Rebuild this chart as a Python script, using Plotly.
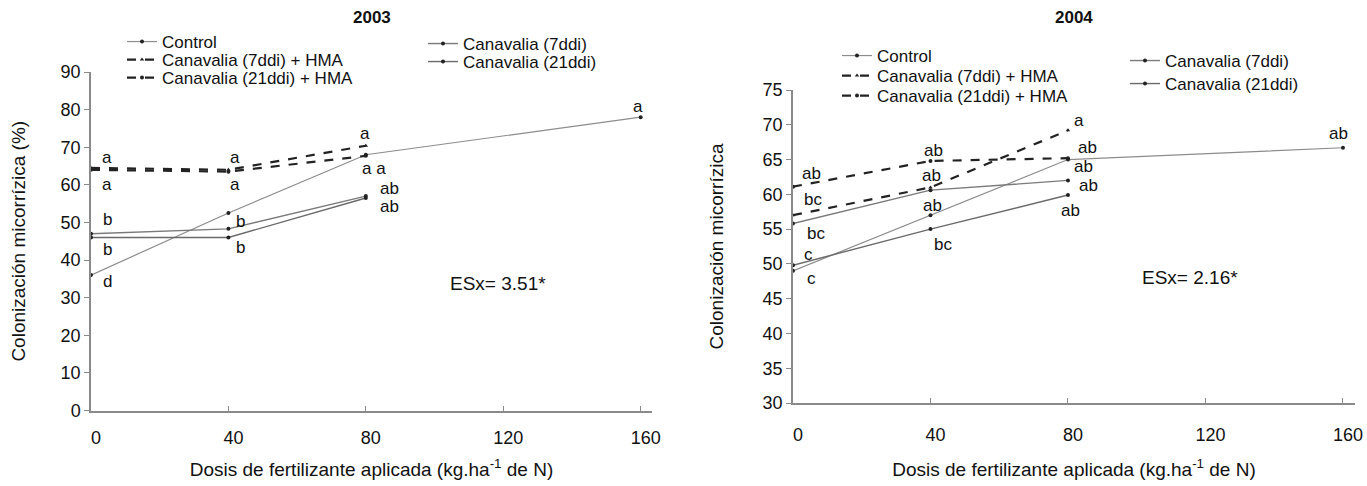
import plotly.graph_objects as go

# ---------------- data ----------------
doses_all = [0, 40, 80, 160]
doses = [0, 40, 80]
series_names = ["Control", "Canavalia (7ddi)", "Canavalia (7ddi) + HMA",
                "Canavalia (21ddi)", "Canavalia (21ddi) + HMA"]

control_2003 = [36, 52.5, 68, 78]
can7_2003 = [47, 48.3, 57]
can7hma_2003 = [64.5, 64, 70.4]
can21_2003 = [46, 46, 56.5]
can21hma_2003 = [64, 63.5, 67.7]

control_2004 = [49, 57, 65, 66.7]
can7_2004 = [55.8, 60.6, 62.0]
can7hma_2004 = [57, 61, 69.2]
can21_2004 = [49.8, 55, 59.9]
can21hma_2004 = [61.1, 64.8, 65.2]

# significance letters: (dose, value, text)
letters_2003 = [(4.7, 67.2, "a"), (4.7, 60.0, "a"), (4.7, 50.7, "b"), (4.9, 42.7, "b"), (4.9, 34.2, "d"),
                (41.9, 67.2, "a"), (41.9, 60.0, "a"), (43.6, 50.2, "b"), (43.6, 43.3, "b"),
                (79.7, 73.6, "a"), (82.5, 64.3, "a a"), (87, 58.9, "ab"), (87, 54.2, "ab"),
                (159.1, 80.8, "a")]
letters_2004 = [(5.4, 63.0, "ab"), (5.9, 59.2, "bc"), (6.7, 54.4, "bc"), (4.5, 51.3, "c"), (5.4, 47.9, "c"),
                (40.8, 66.3, "ab"), (40.3, 62.7, "ab"), (40.6, 58.4, "ab"), (43.5, 52.8, "bc"),
                (83.2, 70.6, "a"), (85.6, 66.8, "ab"), (84.5, 64.0, "ab"), (85.9, 61.3, "ab"), (80.8, 57.7, "ab"),
                (158.6, 68.8, "ab")]
esx_2003 = "ESx= 3.51*"
esx_2004 = "ESx= 2.16*"
x_title = "Dosis de fertilizante aplicada (kg.ha<sup>-1</sup> de N)"

FONT = "Liberation Sans, Arial, sans-serif"
W, H = 1367, 486
fig = go.Figure()

styles = {
    "Control": dict(color="#8c8c8c", width=1.2, dash="solid", symbol="circle"),
    "Canavalia (7ddi)": dict(color="#7a7a7a", width=1.4, dash="solid", symbol="circle"),
    "Canavalia (7ddi) + HMA": dict(color="#222222", width=2.2, dash="dash", symbol="triangle-up"),
    "Canavalia (21ddi)": dict(color="#6a6a6a", width=1.4, dash="solid", symbol="circle"),
    "Canavalia (21ddi) + HMA": dict(color="#222222", width=2.2, dash="dash", symbol="circle"),
}

# legend entry placement (left x of legend box, row centre y) in pixels
legend_pos_2003 = {"Control": (122, 42), "Canavalia (7ddi) + HMA": (122, 60), "Canavalia (21ddi) + HMA": (122, 78),
                   "Canavalia (7ddi)": (423, 44), "Canavalia (21ddi)": (423, 62)}
legend_pos_2004 = {"Control": (837, 56), "Canavalia (7ddi) + HMA": (837, 76), "Canavalia (21ddi) + HMA": (837, 96),
                   "Canavalia (7ddi)": (1125, 61), "Canavalia (21ddi)": (1125, 84)}

legend_layouts = {}
counter = [0]

def add_panel(xa, ya, data, positions):
    for name, (xs, ys) in zip(series_names, data):
        s = styles[name]
        counter[0] += 1
        lid = "legend" if counter[0] == 1 else f"legend{counter[0]}"
        px, py = positions[name]
        legend_layouts[lid] = dict(x=px / W, y=1 - py / H, xanchor="left", yanchor="middle",
                                   font=dict(family=FONT, size=17, color="#111"), bgcolor="rgba(0,0,0,0)",
                                   itemwidth=30, borderwidth=0, visible=True)
        fig.add_trace(go.Scatter(
            x=xs, y=ys, name=name, mode="lines+markers", xaxis=xa, yaxis=ya, legend=lid, showlegend=True,
            line=dict(color=s["color"], width=s["width"], dash=s["dash"]),
            marker=dict(color="#222222", size=4, symbol=s["symbol"]),
        ))

add_panel("x", "y", [(doses_all, control_2003), (doses, can7_2003), (doses, can7hma_2003),
                     (doses, can21_2003), (doses, can21hma_2003)], legend_pos_2003)
add_panel("x2", "y2", [(doses_all, control_2004), (doses, can7_2004), (doses, can7hma_2004),
                       (doses, can21_2004), (doses, can21hma_2004)], legend_pos_2004)

annotations = []
lab_font = dict(family=FONT, size=17, color="#111")
for (xx, yy, t) in letters_2003:
    annotations.append(dict(x=xx, y=yy, xref="x", yref="y", text=t, showarrow=False,
                            xanchor="center", yanchor="middle", font=lab_font))
for (xx, yy, t) in letters_2004:
    annotations.append(dict(x=xx, y=yy, xref="x2", yref="y2", text=t, showarrow=False,
                            xanchor="center", yanchor="middle", font=lab_font))
annotations.append(dict(x=118.4, y=33.8, xref="x", yref="y", text=esx_2003, showarrow=False,
                        xanchor="center", yanchor="middle", font=dict(family=FONT, size=19, color="#111")))
annotations.append(dict(x=115.5, y=48.1, xref="x2", yref="y2", text=esx_2004, showarrow=False,
                        xanchor="center", yanchor="middle", font=dict(family=FONT, size=19, color="#111")))
annotations.append(dict(x=372 / W, y=1 - 18 / H, xref="paper", yref="paper", text="<b>2003</b>",
                        showarrow=False, xanchor="center", yanchor="middle",
                        font=dict(family=FONT, size=17, color="#111")))
annotations.append(dict(x=1074 / W, y=1 - 18 / H, xref="paper", yref="paper", text="<b>2004</b>",
                        showarrow=False, xanchor="center", yanchor="middle",
                        font=dict(family=FONT, size=17, color="#111")))

axis_common = dict(showline=True, linecolor="#8a8a8a", linewidth=1.5, showgrid=False, zeroline=False,
                   automargin=False,
                   tickfont=dict(family=FONT, size=18, color="#111"), tickcolor="#8a8a8a", ticklen=5)

fig.update_layout(
    width=W, height=H,
    showlegend=True,
    margin=dict(l=0, r=0, t=0, b=0, autoexpand=False),
    plot_bgcolor="white", paper_bgcolor="white",
    annotations=annotations,
    xaxis=dict(domain=[91 / W, 652 / W], range=[0, 163.3], tickvals=[0, 40, 80, 120, 160],
               ticks="inside", anchor="y", ticklabelstandoff=10, ticklabelshift=5,
               title=dict(text=x_title, font=dict(family=FONT, size=19, color="#111"), standoff=16),
               **axis_common),
    yaxis=dict(domain=[1 - 410.5 / H, 1 - 72 / H], range=[0, 90], dtick=10, ticks="outside", anchor="x",
               title=dict(text="Colonización micorrízica (%)", font=dict(family=FONT, size=19, color="#111"),
                          standoff=30),
               **axis_common),
    xaxis2=dict(domain=[793 / W, 1355 / W], range=[0, 163.5], tickvals=[0, 40, 80, 120, 160],
                ticks="inside", anchor="y2", ticklabelstandoff=15, ticklabelshift=5,
                title=dict(text=x_title, font=dict(family=FONT, size=19, color="#111"), standoff=18),
                **axis_common),
    yaxis2=dict(domain=[1 - 403 / H, 1 - 90 / H], range=[30, 75], dtick=5, ticks="outside", anchor="x2",
                title=dict(text="Colonización micorrízica", font=dict(family=FONT, size=19, color="#111"),
                           standoff=34),
                **axis_common),
    **legend_layouts,
)

fig.write_html("out.html", config={"displayModeBar": False},
               post_script="document.body.style.margin='0px';document.body.style.padding='0px';")
